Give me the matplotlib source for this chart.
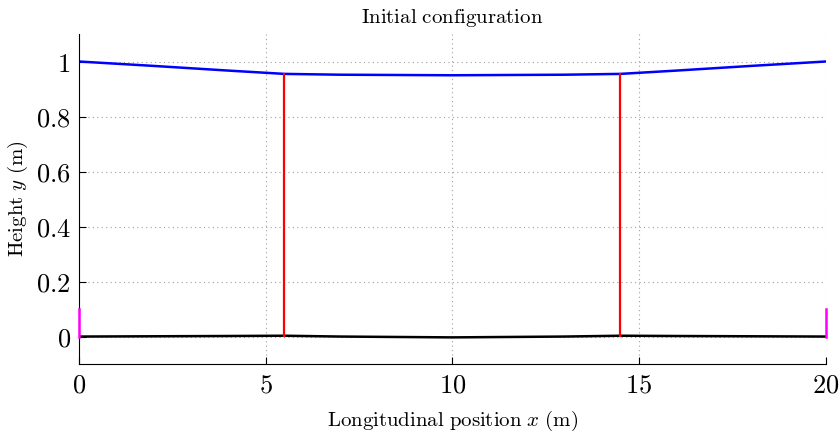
import numpy as np
import matplotlib
matplotlib.use('Agg')
import matplotlib.pyplot as plt

plt.rcParams['mathtext.fontset'] = 'cm'
plt.rcParams['font.family'] = 'serif'

# upper cable
x_top = [0, 2, 4, 5.5, 7, 10, 13, 14.5, 16, 18, 20]
y_top = [1.0, 0.984, 0.967, 0.955, 0.952, 0.950, 0.952, 0.955, 0.967, 0.984, 1.0]
# lower cable
x_bot = [0, 2, 4, 5.5, 7, 10, 13, 14.5, 16, 18, 20]
y_bot = [0.0, 0.001, 0.002, 0.003, 0.000, -0.003, 0.000, 0.003, 0.002, 0.001, 0.0]
# vertical struts
x_struts = [5.5, 14.5]
strut_bot = [0.003, 0.003]
strut_top = [0.955, 0.955]
# end posts
x_posts = [0, 20]
post_h = [0.1, 0.1]

fig = plt.figure(figsize=(8.4, 4.36), dpi=100)
ax = fig.add_axes([0.094, 0.165, 0.889, 0.757])

ax.plot(x_top, y_top, color='blue', lw=1.8)
ax.plot(x_bot, y_bot, color='black', lw=1.8)
for xs, b, t in zip(x_struts, strut_bot, strut_top):
    ax.plot([xs, xs], [b, t], color='red', lw=1.6)
for xp, h in zip(x_posts, post_h):
    ax.plot([xp, xp], [0, h], color='magenta', lw=1.8, clip_on=False, zorder=5)

ax.set_xlim(0, 20)
ax.set_ylim(-0.1, 1.1)
ax.set_xticks([0, 5, 10, 15, 20])
ax.set_yticks([0, 0.2, 0.4, 0.6, 0.8, 1])
ax.set_xticklabels([r'$0$', r'$5$', r'$10$', r'$15$', r'$20$'])
ax.set_yticklabels([r'$0$', r'$0.2$', r'$0.4$', r'$0.6$', r'$0.8$', r'$1$'])
ax.tick_params(direction='in', labelsize=19, length=5, pad=6)
ax.grid(True, linestyle=(0, (1, 3)), color='#a0a0a0', lw=0.8)
ax.spines['top'].set_visible(False)
ax.spines['right'].set_visible(False)

ax.set_title(r'$\mathrm{Initial\ configuration}$', fontsize=15, pad=8)
ax.set_xlabel(r'$\mathrm{Longitudinal\ position}\ x\ \mathrm{(m)}$', fontsize=15, labelpad=8)
ax.set_ylabel(r'$\mathrm{Height}\ y\ \mathrm{(m)}$', fontsize=15, labelpad=4)

fig.savefig('out.png', dpi=100)
